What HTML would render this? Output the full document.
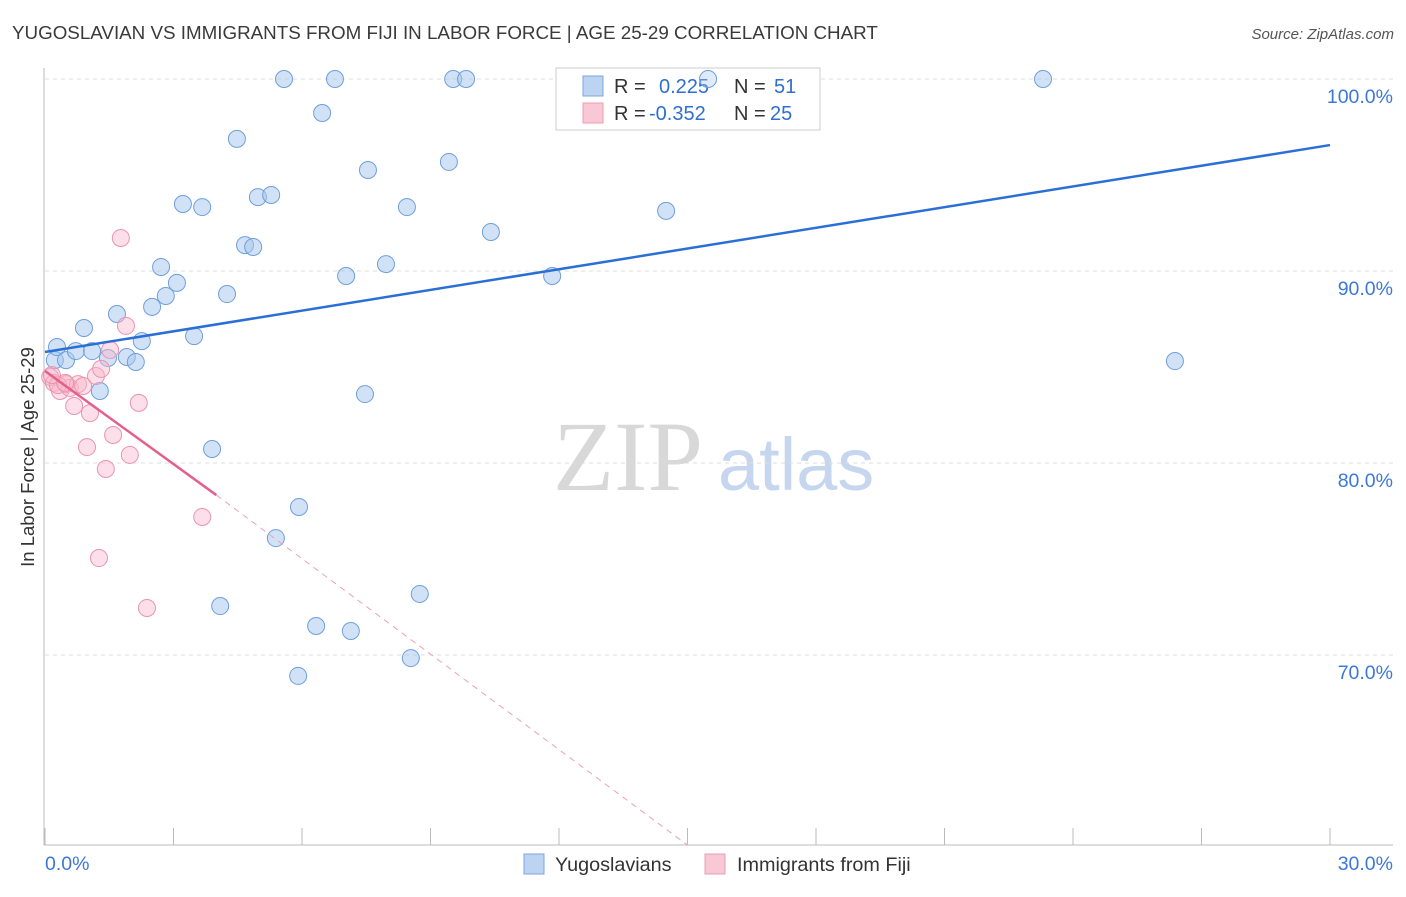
<!DOCTYPE html>
<html><head><meta charset="utf-8"><style>
body{margin:0;background:#fff;font-family:"Liberation Sans",sans-serif;}
</style></head><body>
<svg id="chart" width="1406" height="892" xmlns="http://www.w3.org/2000/svg" font-family="Liberation Sans, sans-serif">
<text x="12" y="39" font-size="18.8" fill="#3a3a3a">YUGOSLAVIAN VS IMMIGRANTS FROM FIJI IN LABOR FORCE | AGE 25-29 CORRELATION CHART</text>
<text x="1394" y="39" font-size="15" fill="#555" text-anchor="end" font-style="italic">Source: ZipAtlas.com</text>
<g>
<text x="553" y="490" font-size="100" fill="#d8d8d8" style="font-family:'Liberation Serif',serif">ZIP</text>
<text x="718" y="490" font-size="74" fill="#c5d6ee">atlas</text>
</g>
<g id="grid"></g>
<g id="axes"></g>
<g id="points"></g>
<g id="trends"></g>
<text transform="translate(34,457) rotate(-90)" font-size="18.5" fill="#333" text-anchor="middle">In Labor Force | Age 25-29</text>
<g>
<rect x="556" y="68" width="264" height="62" fill="#fff" stroke="#ccc"/>
<rect x="583" y="76" width="20" height="20" fill="#bcd4f2" stroke="#7aa6dc"/>
<rect x="583" y="103" width="20" height="20" fill="#f8c8d6" stroke="#ec9db5"/>
<text x="614" y="93" font-size="20" fill="#333">R = </text><text x="659" y="93" font-size="20" fill="#2f6fd0">0.225</text>
<text x="734" y="93" font-size="20" fill="#333">N = </text><text x="774" y="93" font-size="20" fill="#2f6fd0">51</text>
<text x="614" y="120" font-size="20" fill="#333">R = </text><text x="649" y="120" font-size="20" fill="#2f6fd0">-0.352</text>
<text x="734" y="120" font-size="20" fill="#333">N = </text><text x="770" y="120" font-size="20" fill="#2f6fd0">25</text>
</g>
<g id="overlay"></g>
<g>
<rect x="524" y="854" width="20" height="20" fill="#bcd4f2" stroke="#7aa6dc"/>
<text x="555" y="871" font-size="19.8" fill="#333">Yugoslavians</text>
<rect x="705" y="854" width="20" height="20" fill="#f8c8d6" stroke="#ec9db5"/>
<text x="737" y="871" font-size="19.8" fill="#333">Immigrants from Fiji</text>
</g>
</svg>
<script>
const blueX=[0.23,0.28,0.49,0.72,0.91,1.10,1.28,1.47,1.68,1.91,2.12,2.26,2.50,2.71,2.82,3.08,3.22,3.48,3.67,3.90,4.09,4.25,4.48,4.67,4.86,4.97,5.28,5.39,5.58,5.93,5.91,6.33,6.47,6.77,7.03,7.14,7.47,7.54,7.96,8.45,8.54,8.75,9.43,9.53,9.83,10.41,11.84,14.50,15.48,23.30,26.38];
const blueY=[85.36,86.04,85.36,85.83,87.03,85.83,83.75,85.47,87.76,85.52,85.26,86.35,88.13,90.21,88.70,89.38,93.49,86.61,93.33,80.73,72.55,88.80,96.88,91.35,91.25,93.85,93.96,76.09,100,77.71,68.91,71.51,98.23,100,89.74,71.25,83.59,95.26,90.36,93.33,69.84,73.18,95.68,100,100,92.03,89.74,93.13,100,100,85.31];
const pinkX=[0.12,0.21,0.35,0.49,0.58,0.68,0.77,0.89,0.98,1.05,1.19,1.26,1.31,1.42,1.52,1.59,1.77,1.89,1.98,2.19,2.38,3.67,0.30,0.47,0.16];
const pinkY=[84.48,84.17,83.75,84.11,83.91,82.97,84.11,84.01,80.83,82.60,84.53,75.05,84.90,79.69,85.89,81.46,91.72,87.14,80.42,83.13,72.45,77.19,84.06,84.17,84.58];
const yTicks=[100,90,80,70];
const yTickLabels=["100.0%","90.0%","80.0%","70.0%"];
const blueTrend=[[0,85.78],[30,96.56]];
const pinkTrendSolid=[[0,84.79],[4.0,78.33]];
const pinkTrendDash=[[4.0,78.33],[15.0,60.1]];
const NS="http://www.w3.org/2000/svg";
const xs=v=>45+v/30*1285;
const ys=v=>79+(100-v)*19.2;
function mk(tag,attrs,parent){const e=document.createElementNS(NS,tag);for(const k in attrs)e.setAttribute(k,attrs[k]);document.getElementById(parent).appendChild(e);return e;}
yTicks.forEach((t,i)=>{
 const l=mk('line',{x1:45,x2:1393,y1:ys(t),y2:ys(t),stroke:'#ddd','stroke-dasharray':'4,4'},'grid');
 
 
 const tx=mk('text',{x:1393,y:ys(t)+24,'font-size':19.5,fill:'#3c78d8','text-anchor':'end'},'grid');
 tx.textContent=yTickLabels[i];
 
 
});
let a=mk('line',{x1:44,x2:44,y1:68,y2:845,stroke:'#bbb'},'axes');


a=mk('line',{x1:44,x2:1393,y1:845,y2:845,stroke:'#bbb'},'axes');


for(let k=0;k<=10;k++){const x=xs(k*3);const t=mk('line',{x1:x,x2:x,y1:828,y2:845,stroke:'#bbb'},'axes');
 
 }
let t0=mk('text',{x:45,y:870,'font-size':19.5,fill:'#3c78d8'},'axes');t0.textContent='0.0%';


let t1=mk('text',{x:1393,y:870,'font-size':19.5,fill:'#3c78d8','text-anchor':'end'},'axes');t1.textContent='30.0%';


blueX.forEach((x,i)=>{const c=mk('circle',{cx:xs(x),cy:ys(blueY[i]),r:8.5,fill:'rgba(165,198,238,0.5)',stroke:'#6e9fdc','stroke-width':1},'points');
 
 });
pinkX.forEach((x,i)=>{const c=mk('circle',{cx:xs(x),cy:ys(pinkY[i]),r:8.5,fill:'rgba(248,185,205,0.45)',stroke:'#eb93b0','stroke-width':1},'points');
 
 });
let L=mk('line',{x1:xs(blueTrend[0][0]),y1:ys(blueTrend[0][1]),x2:xs(blueTrend[1][0]),y2:ys(blueTrend[1][1]),stroke:'#2a6fd6','stroke-width':2.5},'trends');


L=mk('line',{x1:xs(pinkTrendSolid[0][0]),y1:ys(pinkTrendSolid[0][1]),x2:xs(pinkTrendSolid[1][0]),y2:ys(pinkTrendSolid[1][1]),stroke:'#e35f8c','stroke-width':2.5},'trends');


L=mk('line',{x1:xs(pinkTrendDash[0][0]),y1:ys(pinkTrendDash[0][1]),x2:xs(pinkTrendDash[1][0]),y2:ys(pinkTrendDash[1][1]),stroke:'#eaa0b8','stroke-width':1,'stroke-dasharray':'6,5'},'trends');


// the point under the legend stays visible on top in the reference
const ov=mk('circle',{cx:xs(15.48),cy:ys(100),r:8.5,fill:'rgba(165,198,238,0.35)',stroke:'#6e9fdc','stroke-width':1},'overlay');


</script>
</body></html>
